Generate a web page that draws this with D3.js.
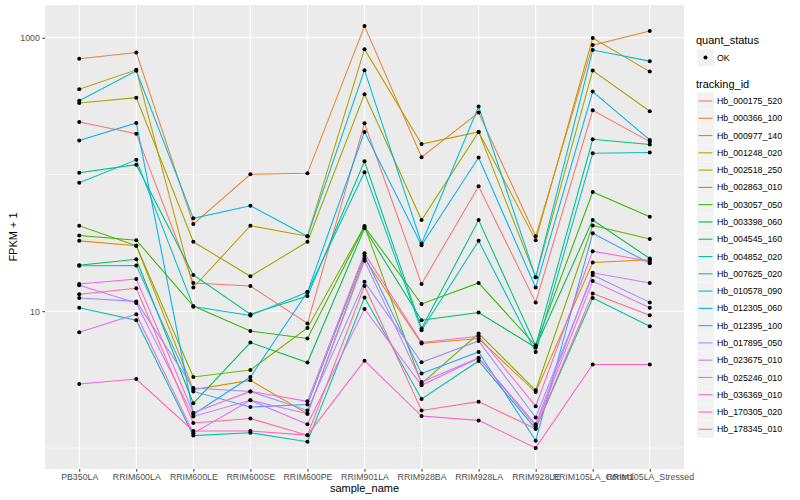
<!DOCTYPE html>
<html>
<head>
<meta charset="utf-8">
<script src="https://cdn.jsdelivr.net/npm/d3@7"></script>
<style>
  html, body { margin: 0; padding: 0; background: #fff; }
  svg { display: block; font-family: "Liberation Sans", Arial, Helvetica, sans-serif; }
</style>
</head>
<body>
<svg id="chart" width="800" height="500"></svg>
<script>
// ---------- data ----------
const samples = ["PB350LA", "RRIM600LA", "RRIM600LE", "RRIM600SE", "RRIM600PE", "RRIM901LA",
  "RRIM928BA", "RRIM928LA", "RRIM928LE", "RRIM105LA_Control", "RRIM105LA_Stressed"];

const trackingIds = ["Hb_000175_520", "Hb_000366_100", "Hb_000977_140", "Hb_001248_020", "Hb_002518_250",
  "Hb_002863_010", "Hb_003057_050", "Hb_003398_060", "Hb_004545_160", "Hb_004852_020",
  "Hb_007625_020", "Hb_010578_090", "Hb_012305_060", "Hb_012395_100", "Hb_017895_050",
  "Hb_023675_010", "Hb_025246_010", "Hb_036369_010", "Hb_170305_020", "Hb_178345_010"];

// FPKM + 1 per sample (order of samples)
const hb_000175_520 = [242, 199, 16.1, 15.3, 8.13, 237, 15.8, 81.9, 11.6, 295, 174];
const hb_000366_100 = [702, 780, 43.4, 100.3, 102, 1218, 134, 284, 35.3, 884, 1120];
const hb_000977_140 = [32.7, 30.1, 2.67, 3.12, 1.78, 24.3, 5.80, 6.31, 2.56, 22.7, 23.8];
const hb_001248_020 = [421, 583, 14.9, 42.2, 35.4, 826, 167, 205, 33.1, 995, 566];
const hb_002518_250 = [334, 365, 32.2, 18.0, 32.2, 387, 46.4, 205, 17.7, 576, 290];
const hb_002863_010 = [42.2, 30.1, 3.30, 3.72, 7.55, 42.0, 2.95, 6.86, 2.64, 42.4, 33.7];
const hb_003057_050 = [35.8, 33.1, 10.9, 7.17, 6.31, 41.5, 11.3, 16.1, 5.61, 74.4, 49.1];
const hb_003398_060 = [21.7, 24.0, 2.12, 5.90, 4.21, 40.4, 8.59, 9.78, 5.42, 46.4, 24.3];
const hb_004545_160 = [103, 118, 18.4, 9.51, 12.9, 125, 7.47, 46.4, 5.61, 181, 166];
const hb_004852_020 = [10.6, 8.59, 1.23, 1.29, 1.11, 12.6, 2.28, 4.32, 1.38, 12.5, 7.77];
const hb_007625_020 = [87.1, 128, 10.8, 9.30, 13.8, 104, 7.26, 32.7, 5.03, 143, 145];
const hb_010578_090 = [346, 573, 47.8, 59.1, 35.4, 580, 31.3, 314, 17.7, 813, 675];
const hb_012305_060 = [177, 238, 1.76, 3.30, 13.8, 205, 30.4, 133, 14.9, 404, 179];
const hb_012395_100 = [21.5, 21.6, 2.59, 1.99, 2.08, 25.4, 3.50, 5.03, 1.13, 37.1, 22.4];
const hb_017895_050 = [12.5, 11.8, 2.74, 2.59, 1.88, 16.4, 4.23, 6.06, 1.67, 18.4, 11.6];
const hb_023675_010 = [15.5, 11.5, 1.70, 2.23, 1.78, 23.4, 3.03, 4.55, 1.49, 19.1, 16.1];
const hb_025246_010 = [7.02, 9.51, 1.28, 2.23, 1.49, 10.4, 2.87, 4.55, 1.44, 16.6, 10.6];
const hb_036369_010 = [15.8, 17.2, 1.81, 2.59, 2.19, 26.5, 5.90, 6.56, 2.02, 27.5, 23.2];
const hb_170305_020 = [2.93, 3.19, 1.33, 1.33, 1.24, 4.35, 1.71, 1.59, 1.00, 4.07, 4.07];
const hb_178345_010 = [13.3, 14.7, 1.52, 1.64, 1.24, 15.3, 1.88, 2.18, 1.38, 13.5, 9.35];

const seriesValues = [hb_000175_520, hb_000366_100, hb_000977_140, hb_001248_020, hb_002518_250,
  hb_002863_010, hb_003057_050, hb_003398_060, hb_004545_160, hb_004852_020,
  hb_007625_020, hb_010578_090, hb_012305_060, hb_012395_100, hb_017895_050,
  hb_023675_010, hb_025246_010, hb_036369_010, hb_170305_020, hb_178345_010];

const hueColors = ["#F8766D", "#EA8331", "#D89000", "#C09B00", "#A3A500", "#7CAE00", "#39B600", "#00BB4E",
  "#00BF7D", "#00C1A3", "#00BFC4", "#00BAE0", "#00B0F6", "#35A2FF", "#9590FF", "#C77CFF",
  "#E76BF3", "#FA62DB", "#FF62BC", "#FF6C91"];

const yMajorTicks = [10, 1000];
const yMinorTicks = [1, 100];
const quantStatus = ["OK"];

// ---------- layout ----------
const panel = { left: 45, right: 684, top: 5, bottom: 469 };
const svg = d3.select("#chart");

const series = trackingIds.map((id, i) => ({
  id, color: hueColors[i],
  points: samples.map((s, j) => ({ sample: s, value: seriesValues[i][j] }))
}));

const x = d3.scalePoint().domain(samples).range([panel.left, panel.right]).padding(0.6);

const allVals = seriesValues.flat();
const lmin = Math.log10(d3.min(allVals)), lmax = Math.log10(d3.max(allVals));
const ex = (lmax - lmin) * 0.05;
const y = d3.scaleLog().domain([Math.pow(10, lmin - ex), Math.pow(10, lmax + ex)])
  .range([panel.bottom, panel.top]);

// panel background
svg.append("rect").attr("x", panel.left).attr("y", panel.top)
  .attr("width", panel.right - panel.left).attr("height", panel.bottom - panel.top)
  .attr("fill", "#EBEBEB");

// grid
const grid = svg.append("g");
grid.selectAll(".ymin").data(yMinorTicks).enter().append("line")
  .attr("x1", panel.left).attr("x2", panel.right)
  .attr("y1", d => y(d)).attr("y2", d => y(d))
  .attr("stroke", "#fff").attr("stroke-width", 0.55);
grid.selectAll(".ymaj").data(yMajorTicks).enter().append("line")
  .attr("x1", panel.left).attr("x2", panel.right)
  .attr("y1", d => y(d)).attr("y2", d => y(d))
  .attr("stroke", "#fff").attr("stroke-width", 1.1);
grid.selectAll(".xmaj").data(samples).enter().append("line")
  .attr("x1", d => x(d)).attr("x2", d => x(d))
  .attr("y1", panel.top).attr("y2", panel.bottom)
  .attr("stroke", "#fff").attr("stroke-width", 1.1);

// clip
svg.append("clipPath").attr("id", "clip").append("rect")
  .attr("x", panel.left).attr("y", panel.top)
  .attr("width", panel.right - panel.left).attr("height", panel.bottom - panel.top);

const plot = svg.append("g").attr("clip-path", "url(#clip)");
const line = d3.line().x(d => x(d.sample)).y(d => y(d.value));

plot.selectAll(".series").data(series).enter().append("path")
  .attr("d", d => line(d.points))
  .attr("fill", "none").attr("stroke", d => d.color).attr("stroke-width", 1.05);

plot.selectAll(".pt").data(series.flatMap(s => s.points)).enter().append("circle")
  .attr("cx", d => x(d.sample)).attr("cy", d => y(d.value)).attr("r", 2)
  .attr("fill", "#000");

// axes
const xAxis = d3.axisBottom(x).tickSize(2.7).tickPadding(2.5);
const gx = svg.append("g").attr("transform", `translate(0,${panel.bottom})`).call(xAxis);
gx.select(".domain").remove();
gx.selectAll(".tick line").attr("stroke", "#333");
gx.selectAll(".tick text").attr("fill", "#4D4D4D").style("font-size", "8.8px");

const yAxis = d3.axisLeft(y).tickValues(yMajorTicks).tickFormat(d3.format("d")).tickSize(2.7).tickPadding(2.5);
const gy = svg.append("g").attr("transform", `translate(${panel.left},0)`).call(yAxis);
gy.select(".domain").remove();
gy.selectAll(".tick line").attr("stroke", "#333");
gy.selectAll(".tick text").attr("fill", "#4D4D4D").style("font-size", "8.8px");

// axis titles
svg.append("text").attr("x", (panel.left + panel.right) / 2).attr("y", 492)
  .attr("text-anchor", "middle").style("font-size", "11px").attr("fill", "#000").text("sample_name");
svg.append("text").attr("transform", `translate(17,${(panel.top + panel.bottom) / 2}) rotate(-90)`)
  .attr("text-anchor", "middle").style("font-size", "11px").attr("fill", "#000").text("FPKM + 1");

// legends
const lg = svg.append("g");
const lx = 697;
lg.append("text").attr("x", lx - 1).attr("y", 44).style("font-size", "11px").text("quant_status");
quantStatus.forEach((q, i) => {
  const ky = 49 + i * 17.3;
  lg.append("rect").attr("x", lx).attr("y", ky).attr("width", 17).attr("height", 17).attr("fill", "#F2F2F2");
  lg.append("circle").attr("cx", lx + 8.5).attr("cy", ky + 8.5).attr("r", 2).attr("fill", "#000");
  lg.append("text").attr("x", lx + 20).attr("y", ky + 8.5).attr("dy", "0.35em")
    .style("font-size", "8.8px").attr("fill", "#000").text(q);
});

lg.append("text").attr("x", lx - 1).attr("y", 88).style("font-size", "11px").text("tracking_id");
const keys = lg.selectAll(".key").data(series).enter().append("g")
  .attr("transform", (d, i) => `translate(${lx},${92.5 + i * 17.28})`);
keys.append("rect").attr("width", 17).attr("height", 17).attr("fill", "#F2F2F2");
keys.append("line").attr("x1", 1.5).attr("x2", 15.5).attr("y1", 8.5).attr("y2", 8.5)
  .attr("stroke", d => d.color).attr("stroke-width", 1.1);
keys.append("text").attr("x", 20).attr("y", 8.5).attr("dy", "0.35em")
  .style("font-size", "8.8px").attr("fill", "#000").text(d => d.id);
</script>
</body>
</html>
